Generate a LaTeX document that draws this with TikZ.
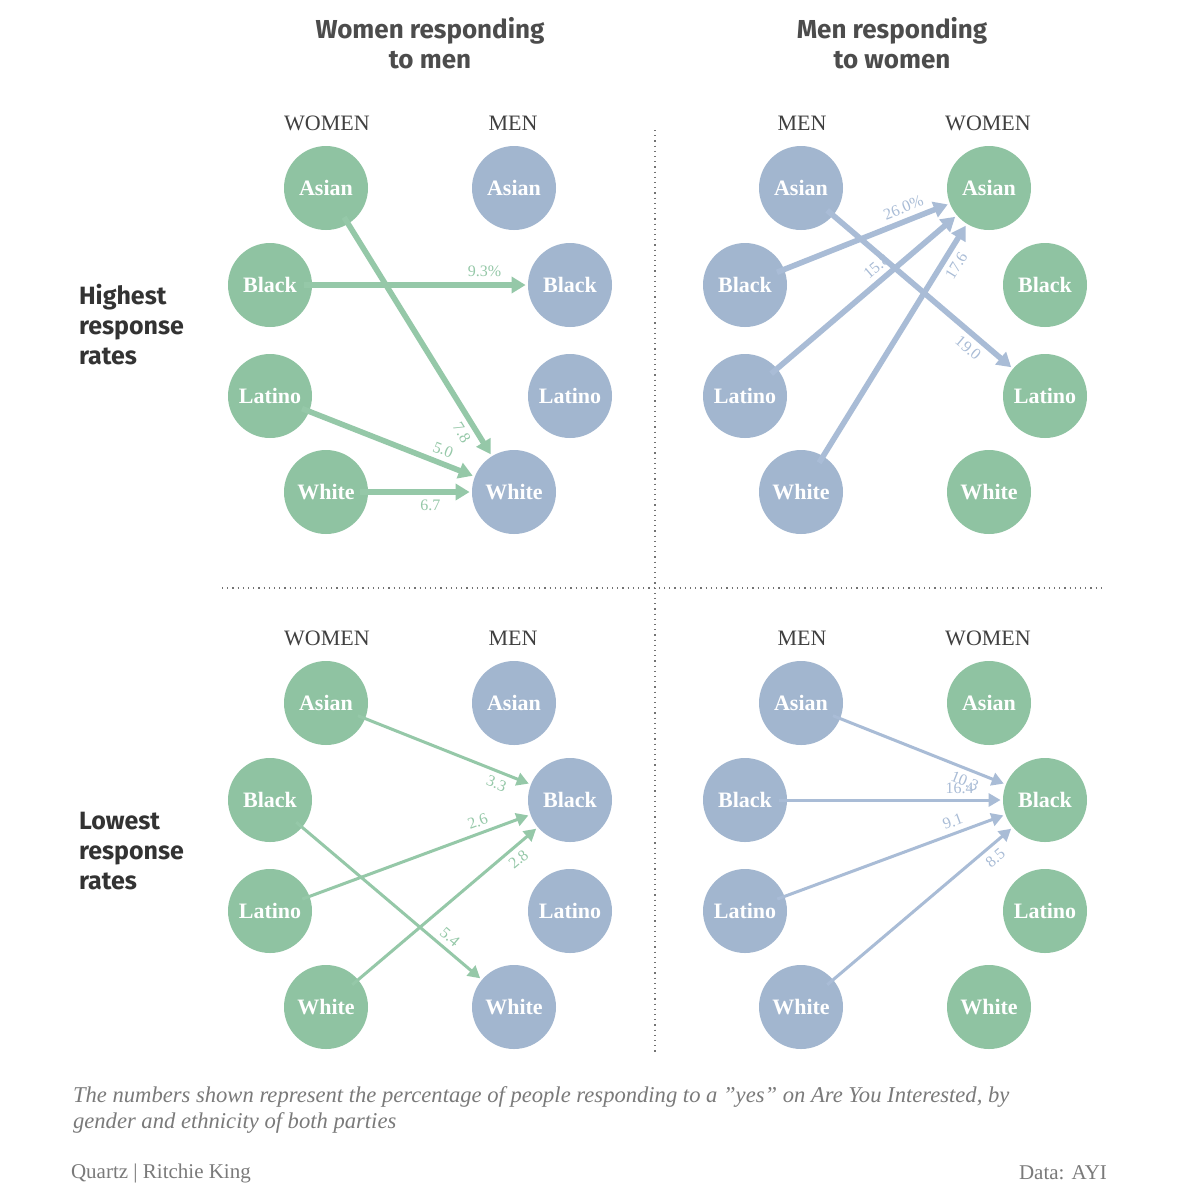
\documentclass[tikz,border=0pt]{standalone}
\usepackage{fontspec}
\setmainfont{Liberation Serif}
\newfontfamily\ttl{Fira Sans}
\usetikzlibrary{arrows.meta}
\definecolor{gc}{HTML}{8FC3A2}
\definecolor{bc}{HTML}{A2B6CF}
\definecolor{ga}{HTML}{95C8A8}
\definecolor{ba}{HTML}{A9BCD6}
\definecolor{tx}{HTML}{7A7A7A}
\begin{document}
\begin{tikzpicture}[x=0.5pt,y=-0.5pt,
 g/.style={circle,fill=gc,minimum size=42pt,inner sep=0pt,text=white,font=\bfseries\fontsize{11}{11}\selectfont},
 b/.style={g,fill=bc},
 hd/.style={font=\fontsize{11}{11}\selectfont,text=black!75},
 ttlst/.style={font=\ttl\bfseries\fontsize{13}{15}\selectfont,text=black!70,align=center},
 side/.style={font=\ttl\bfseries\fontsize{12.5}{15}\selectfont,text=black!80,align=left,anchor=west},
 ag/.style={draw=ga,line width=2.8pt,-{Triangle[length=7pt,width=8pt]},shorten <=-4pt,shorten >=1pt},
 ab/.style={ag,draw=ba},
 agt/.style={ag,line width=1.5pt,-{Triangle[length=6pt,width=6.5pt]}},
 abt/.style={agt,draw=ba},
 lg/.style={font=\fontsize{8}{8}\selectfont,text=ga,sloped,above,inner sep=2.5pt},
 lb/.style={lg,text=ba}]
\fill[white] (0,0) rectangle (1179,1196);
\useasboundingbox (0,0) rectangle (1179,1196);
\draw[black!55,dotted,line width=0.6pt] (655,130) -- (655,1055);
\draw[black!55,dotted,line width=0.6pt] (222,588) -- (1105,588);
\node[ttlst] (t1) at (430,43) {Women responding\\to men};
\node[ttlst] (t2) at (892,43) {Men responding\\to women};
\node[side] (s1) at (72,325) {Highest\\response\\rates};
\node[side] (s2) at (72,851) {Lowest\\response\\rates};
\foreach \p/\dx/\dy/\lt/\rt/\lh/\rh in {A/0/0/g/b/WOMEN/MEN, B/475/0/b/g/MEN/WOMEN, C/0/515/g/b/WOMEN/MEN, D/475/515/b/g/MEN/WOMEN}{
  \node[hd] (\p hl) at (327+\dx,123+\dy) {\lh};
  \node[hd] (\p hr) at (513+\dx,123+\dy) {\rh};
  \node[\lt] (\p LAsian) at (326+\dx,188+\dy) {Asian};
  \node[\lt] (\p LBlack) at (270+\dx,285+\dy) {Black};
  \node[\lt] (\p LLatino) at (270+\dx,396+\dy) {Latino};
  \node[\lt] (\p LWhite) at (326+\dx,492+\dy) {White};
  \node[\rt] (\p RAsian) at (514+\dx,188+\dy) {Asian};
  \node[\rt] (\p RBlack) at (570+\dx,285+\dy) {Black};
  \node[\rt] (\p RLatino) at (570+\dx,396+\dy) {Latino};
  \node[\rt] (\p RWhite) at (514+\dx,492+\dy) {White};
}
% Top-left
\draw[ag] (ALAsian) -- node[lg,pos=0.87,below] {7.8} (ARWhite);
\draw[ag] (ALBlack) -- node[lg,pos=0.8] {9.3\%} (ARBlack);
\draw[ag] (ALLatino) -- node[lg,pos=0.78] {5.0} (ARWhite);
\draw[ag] (ALWhite) -- node[lg,pos=0.6,below] {6.7} (ARWhite);
% Top-right
\draw[ab] (BLBlack) -- node[lb,pos=0.75] {26.0\%} (BRAsian);
\draw[ab] (BLLatino) -- node[lb,pos=0.6] {15.8} (BRAsian);
\draw[ab] (BLWhite) -- node[lb,pos=0.85,below] {17.6} (BRAsian);
\draw[ab] (BLAsian) -- node[lb,pos=0.8,below] {19.0} (BRLatino);
% Bottom-left
\draw[agt] (CLAsian) -- node[lg,pos=0.82,below] {3.3} (CRBlack);
\draw[agt] (CLLatino) -- node[lg,pos=0.78] {2.6} (CRBlack);
\draw[agt] (CLWhite) -- node[lg,pos=0.85,below] {2.8} (CRBlack);
\draw[agt] (CLBlack) -- node[lg,pos=0.78,above] {5.4} (CRWhite);
% Bottom-right
\draw[abt] (DLAsian) -- node[lb,pos=0.78,below] {10.3} (DRBlack);
\draw[abt] (DLBlack) -- node[lb,pos=0.8] {16.4} (DRBlack);
\draw[abt] (DLLatino) -- node[lb,pos=0.78] {9.1} (DRBlack);
\draw[abt] (DLWhite) -- node[lb,pos=0.86,below] {8.5} (DRBlack);
\node[anchor=west,align=left,text=tx,font=\itshape\fontsize{11.3}{13}\selectfont] (cap) at (66,1110) {The numbers shown represent the percentage of people responding to a \symbol{34}yes\symbol{34} on Are You Interested, by\\gender and ethnicity of both parties};
\node[anchor=west,text=tx,font=\fontsize{10.5}{10.5}\selectfont] (f1) at (64,1173) {Quartz | Ritchie King};
\node[anchor=east,text=tx,font=\fontsize{10.5}{10.5}\selectfont] (f2) at (1114,1173) {Data: AYI};
\end{tikzpicture}
\end{document}
